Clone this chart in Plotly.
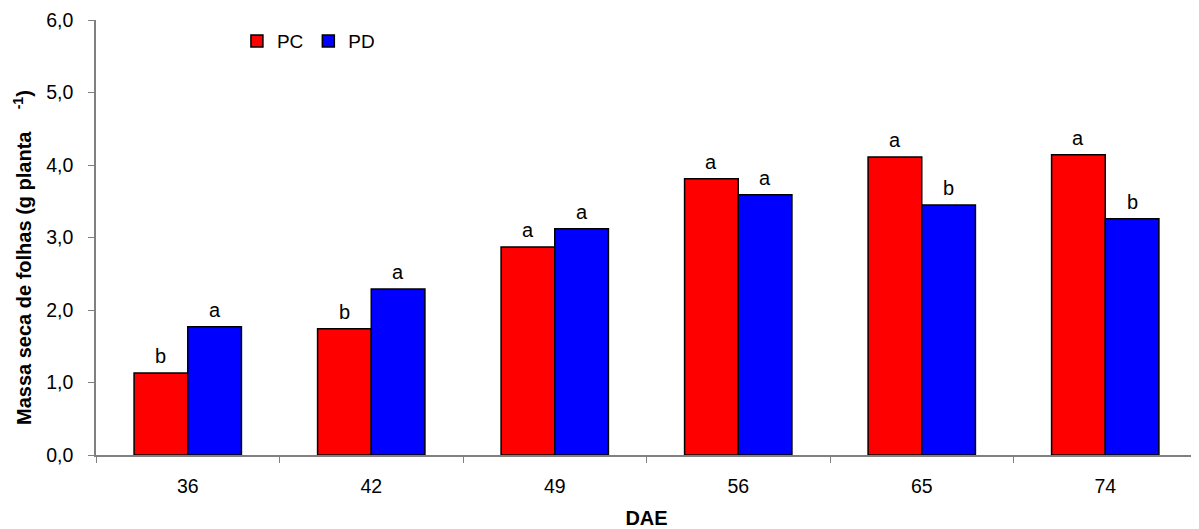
import plotly.graph_objects as go

dae = ["36", "42", "49", "56", "65", "74"]
pc_values = [1.13, 1.74, 2.87, 3.81, 4.11, 4.14]
pd_values = [1.77, 2.29, 3.12, 3.59, 3.45, 3.26]
pc_letters = ["b", "b", "a", "a", "a", "a"]
pd_letters = ["a", "a", "a", "a", "b", "b"]

font = "Liberation Sans, Arial, sans-serif"
bargap = 0.415
half = (1 - bargap) / 4  # centre offset of each bar within a group

fig = go.Figure()
fig.add_trace(go.Bar(
    x=dae, y=pc_values, name="PC",
    marker=dict(color="#FF0000", line=dict(color="black", width=1.5)),
))
fig.add_trace(go.Bar(
    x=dae, y=pd_values, name="PD",
    marker=dict(color="#0000FF", line=dict(color="black", width=1.5)),
))

for i, (v, t) in enumerate(zip(pc_values, pc_letters)):
    fig.add_annotation(x=i - half, y=v, text=t, showarrow=False, yanchor="bottom",
                       yshift=4, font=dict(size=20, color="black"))
for i, (v, t) in enumerate(zip(pd_values, pd_letters)):
    fig.add_annotation(x=i + half, y=v, text=t, showarrow=False, yanchor="bottom",
                       yshift=4, font=dict(size=20, color="black"))

# y-axis title as annotation (it sits slightly below the plot centre)
fig.add_annotation(
    xref="paper", yref="paper", x=-0.0673, y=0.455, xanchor="center", yanchor="middle",
    textangle=-90, showarrow=False,
    text="<b>Massa seca de folhas (g planta &nbsp;&nbsp;&nbsp;<sup>-1</sup>)</b>",
    font=dict(size=20, color="black"),
)

fig.update_layout(
    width=1199, height=529,
    margin=dict(l=88, r=10, t=12, b=82),
    paper_bgcolor="white", plot_bgcolor="white",
    barmode="group", bargap=bargap, bargroupgap=0,
    separators=", ",
    font=dict(family=font, size=19.5, color="black"),
    showlegend=True,
    legend=dict(orientation="h", x=0.128, y=0.995, xanchor="left", yanchor="top",
                font=dict(size=19), bgcolor="rgba(0,0,0,0)", itemwidth=30,
                traceorder="normal"),
)
fig.update_xaxes(
    type="category", showline=True, linecolor="#808080", linewidth=1.5,
    ticks="outside", tickson="boundaries", ticklen=6, tickcolor="#808080",
    tickfont=dict(size=19.5), showgrid=False, automargin=False,
    ticklabelstandoff=13,
    title=dict(text="<b>DAE</b>", font=dict(size=20), standoff=15),
)
fig.update_yaxes(
    range=[0, 6], dtick=1, tickformat=".1f", showline=True, linecolor="#808080",
    linewidth=1.5, ticks="outside", ticklen=6, tickcolor="#808080",
    tickfont=dict(size=19.5), showgrid=False, zeroline=False, automargin=False,
    ticklabelstandoff=11,
)

fig.write_html("out.html")
